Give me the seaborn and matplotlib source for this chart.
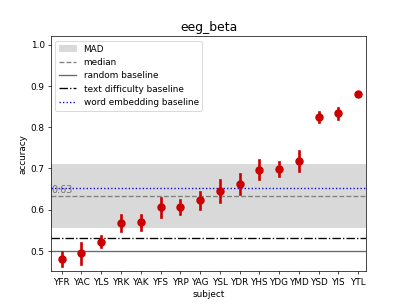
import numpy as np
import pandas as pd
import matplotlib
matplotlib.use('Agg')
import matplotlib.pyplot as plt
import seaborn as sns

subjects = ['YFR', 'YAC', 'YLS', 'YRK', 'YAK', 'YFS', 'YRP', 'YAG', 'YSL',
            'YDR', 'YHS', 'YDG', 'YMD', 'YSD', 'YIS', 'YTL']
acc_mean = [0.480, 0.494, 0.522, 0.567, 0.569, 0.606, 0.606, 0.622, 0.645,
            0.662, 0.697, 0.698, 0.718, 0.824, 0.833, 0.881]
acc_err = [0.018, 0.025, 0.013, 0.020, 0.018, 0.023, 0.017, 0.020, 0.027,
           0.025, 0.024, 0.017, 0.025, 0.012, 0.014, 0.005]

median_acc = 0.634
mad_low, mad_high = 0.558, 0.710
random_baseline = 0.5
text_baseline = 0.530
embedding_baseline = 0.653

# each subject as lower / mean / upper so pointplot draws the bar as the range
rows = []
for s, m, e in zip(subjects, acc_mean, acc_err):
    for v in (m - e, m, m + e):
        rows.append({'subject': s, 'accuracy': v})
df = pd.DataFrame(rows)

fig = plt.figure(figsize=(6.4, 4.8), dpi=63.6)
ax = fig.add_axes([0.125, 0.11, 0.775, 0.77])

mad = ax.axhspan(mad_low, mad_high, color='lightgrey', alpha=0.85, label='MAD')
med = ax.axhline(median_acc, color='grey', ls='--', label='median')
rnd = ax.axhline(random_baseline, color='dimgrey', ls='-', label='random baseline')
txt = ax.axhline(text_baseline, color='black', ls='-.', lw=1.5,
                 label='text difficulty baseline')
emb = ax.axhline(embedding_baseline, color='mediumblue', ls=':',
                 label='word embedding baseline')

sns.pointplot(data=df, x='subject', y='accuracy', order=subjects,
              estimator='median', errorbar=('pi', 100), color='#cc0000',
              linestyle='none', markersize=7.5, err_kws={'linewidth': 3},
              ax=ax)

ax.text(-0.55, median_acc + 0.003, '0.63', color='dimgrey', alpha=0.9,
        fontsize=11, va='bottom', ha='left', zorder=1.5)

ax.set_xlim(-0.55, 15.42)
ax.set_ylim(0.45, 1.02)
ax.set_yticks([0.5, 0.6, 0.7, 0.8, 0.9, 1.0])
ax.set_title('eeg_beta', fontsize=14)
ax.set_xlabel('subject')
ax.set_ylabel('accuracy')
ax.legend(handles=[mad, med, rnd, txt, emb], loc='upper left')

fig.savefig('out.png', dpi=63.6)
